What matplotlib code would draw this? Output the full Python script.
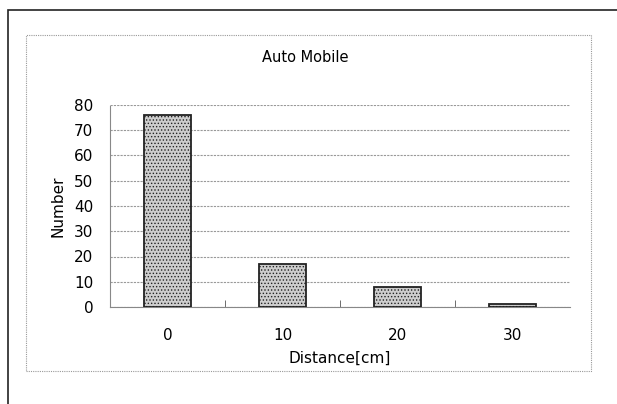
import matplotlib
matplotlib.use("Agg")
import matplotlib.pyplot as plt
from matplotlib.patches import Rectangle
import numpy as np

categories = ["0", "10", "20", "30"]
counts = [76, 17, 8, 1]
yticks = [0, 10, 20, 30, 40, 50, 60, 70, 80]

W, H = 617, 404
fig = plt.figure(figsize=(W / 100, H / 100), dpi=100)
plt.rcParams["hatch.color"] = "#999999"
plt.rcParams["hatch.linewidth"] = 0.6

# outer solid frame (cut at right and bottom) and inner dotted frame
fig.patches.append(Rectangle((8 / W, -0.05), 1.2, 1 - 10 / H + 0.05, transform=fig.transFigure,
                             fill=False, ec="#222222", lw=1.2))
fig.patches.append(Rectangle((26 / W, 1 - 371 / H), (591 - 26) / W, (371 - 35) / H,
                             transform=fig.transFigure, fill=False, ec="#999999",
                             lw=0.8, ls=(0, (1, 1))))

ax = fig.add_axes([110 / W, 1 - 307 / H, (570 - 110) / W, (307 - 105) / H])
x = np.arange(len(categories)) + 0.5
ax.bar(x, counts, width=0.41, color="#cdcdcd", edgecolor="#222222", linewidth=1.3,
       hatch=".....", zorder=3)

ax.set_xlim(0, len(categories))
ax.set_ylim(0, 80)
ax.set_yticks(yticks)
ax.set_xticks(x)
ax.set_xticklabels(categories)
ax.set_xticks(np.arange(1, len(categories)), minor=True)
ax.tick_params(axis="y", length=0, pad=12, labelsize=11)
ax.tick_params(axis="x", which="major", length=0, pad=15, labelsize=11)
ax.tick_params(axis="x", which="minor", length=5, direction="in", color="#555555")
ax.yaxis.grid(True, color="#999999", lw=0.8, ls=(0, (2, 1)), zorder=0)
for s in ["left", "bottom"]:
    ax.spines[s].set_color("#888888")
    ax.spines[s].set_linestyle((0, (1, 1)))
    ax.spines[s].set_linewidth(0.8)
ax.spines["top"].set_visible(False)
ax.spines["right"].set_visible(False)

ax.set_xlabel("Distance[cm]", fontsize=11, labelpad=6)
ax.set_ylabel("Number", fontsize=11, labelpad=6)
fig.text(305 / W, 1 - 58 / H, "Auto Mobile", ha="center", va="center", fontsize=10.5)

fig.savefig("out.png", dpi=100)
